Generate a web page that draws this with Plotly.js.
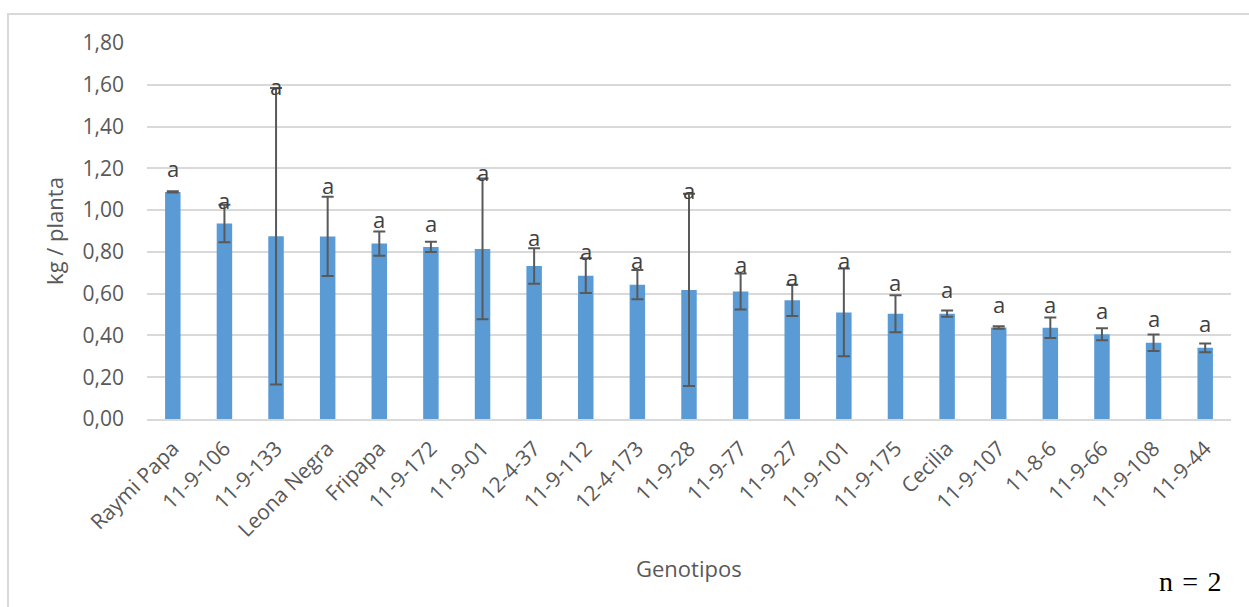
<!DOCTYPE html>
<html>
<head>
<meta charset="utf-8">
<script src="https://cdn.plot.ly/plotly-3.0.1.min.js"></script>
<style>
  html, body { margin: 0; padding: 0; background: #ffffff; }
  #wrap { position: relative; width: 1249px; height: 607px; overflow: hidden; }
  #chart { width: 1249px; height: 607px; }
  #frame {
    position: absolute; left: 7px; top: 13px; width: 1300px; height: 700px;
    border-top: 2px solid #d9d9d9; border-left: 2px solid #d9d9d9;
    pointer-events: none;
  }
</style>
</head>
<body>
<div id="wrap">
  <div id="chart"></div>
  <div id="frame"></div>
</div>
<script>
// Yield per plant by genotype (mean and error)
const genotipos = [
  "Raymi Papa", "11-9-106", "11-9-133", "Leona Negra", "Fripapa", "11-9-172",
  "11-9-01", "12-4-37", "11-9-112", "12-4-173", "11-9-28", "11-9-77",
  "11-9-27", "11-9-101", "11-9-175", "Cecilia", "11-9-107", "11-8-6",
  "11-9-66", "11-9-108", "11-9-44"
];
const kgPlanta = [
  1.087, 0.936, 0.875, 0.874, 0.840, 0.824,
  0.814, 0.733, 0.686, 0.643, 0.618, 0.610,
  0.568, 0.510, 0.504, 0.504, 0.438, 0.437,
  0.406, 0.365, 0.341
];
const errorKg = [
  0.003, 0.090, 0.710, 0.190, 0.058, 0.024,
  0.337, 0.085, 0.083, 0.070, 0.460, 0.086,
  0.075, 0.210, 0.089, 0.015, 0.006, 0.049,
  0.029, 0.040, 0.021
];
// Significance group letters and the height where each is written
const letras = [
  "a", "a", "a", "a", "a", "a", "a", "a", "a", "a", "a",
  "a", "a", "a", "a", "a", "a", "a", "a", "a", "a"
];
const letraY = [
  1.200, 1.048, 1.595, 1.120, 0.957, 0.936,
  1.184, 0.872, 0.803, 0.760, 1.096, 0.744,
  0.680, 0.760, 0.656, 0.621, 0.552, 0.549,
  0.523, 0.485, 0.459
];
const yTicks = [0, 0.2, 0.4, 0.6, 0.8, 1.0, 1.2, 1.4, 1.6, 1.8];

const FONT = "'Open Sans', 'Noto Sans', sans-serif";
const GRAY = "#595959";

const trace = {
  type: "bar",
  x: genotipos,
  y: kgPlanta,
  marker: { color: "#5b9bd5" },
  error_y: {
    type: "data",
    array: errorKg,
    visible: true,
    color: "#595959",
    thickness: 2,
    width: 6
  },
  hoverinfo: "x+y"
};

const annotations = genotipos.map((g, i) => ({
  x: g, y: letraY[i], xref: "x", yref: "y",
  text: letras[i], showarrow: false,
  font: { family: FONT, size: 22, color: "#404040" }
}));

annotations.push({
  xref: "paper", yref: "paper", x: 0.5, y: -0.396,
  xanchor: "center", yanchor: "middle",
  text: "Genotipos", showarrow: false,
  font: { family: FONT, size: 22, color: GRAY }
});
annotations.push({
  xref: "paper", yref: "paper", x: 0.962, y: -0.433,
  xanchor: "center", yanchor: "middle",
  text: "n\u2004=\u20042", showarrow: false,
  font: { family: "'Liberation Serif', 'Times New Roman', serif", size: 28, color: "#000000" }
});

const layout = {
  width: 1249,
  height: 607,
  margin: { l: 147, r: 18, t: 43, b: 188 },
  paper_bgcolor: "#ffffff",
  plot_bgcolor: "#ffffff",
  separators: ",.",
  showlegend: false,
  bargap: 0.7,
  font: { family: FONT, color: GRAY },
  xaxis: {
    type: "category",
    tickangle: -45,
    tickfont: { family: FONT, size: 21, color: GRAY },
    showline: true,
    linecolor: "#d9d9d9",
    linewidth: 2,
    ticks: "",
    ticklabelstandoff: 7,
    showgrid: false,
    automargin: false
  },
  yaxis: {
    range: [0, 1.8],
    tickvals: yTicks,
    tickformat: ".2f",
    tickfont: { family: FONT, size: 21, color: GRAY },
    showgrid: true,
    gridcolor: "#d9d9d9",
    gridwidth: 2,
    zeroline: false,
    showline: false,
    ticks: "",
    ticklabelstandoff: 22,
    automargin: false,
    title: {
      text: "kg / planta",
      font: { family: FONT, size: 22, color: GRAY },
      standoff: 12
    }
  },
  annotations: annotations
};

Plotly.newPlot("chart", [trace], layout, { displayModeBar: false, staticPlot: true });
</script>
</body>
</html>
